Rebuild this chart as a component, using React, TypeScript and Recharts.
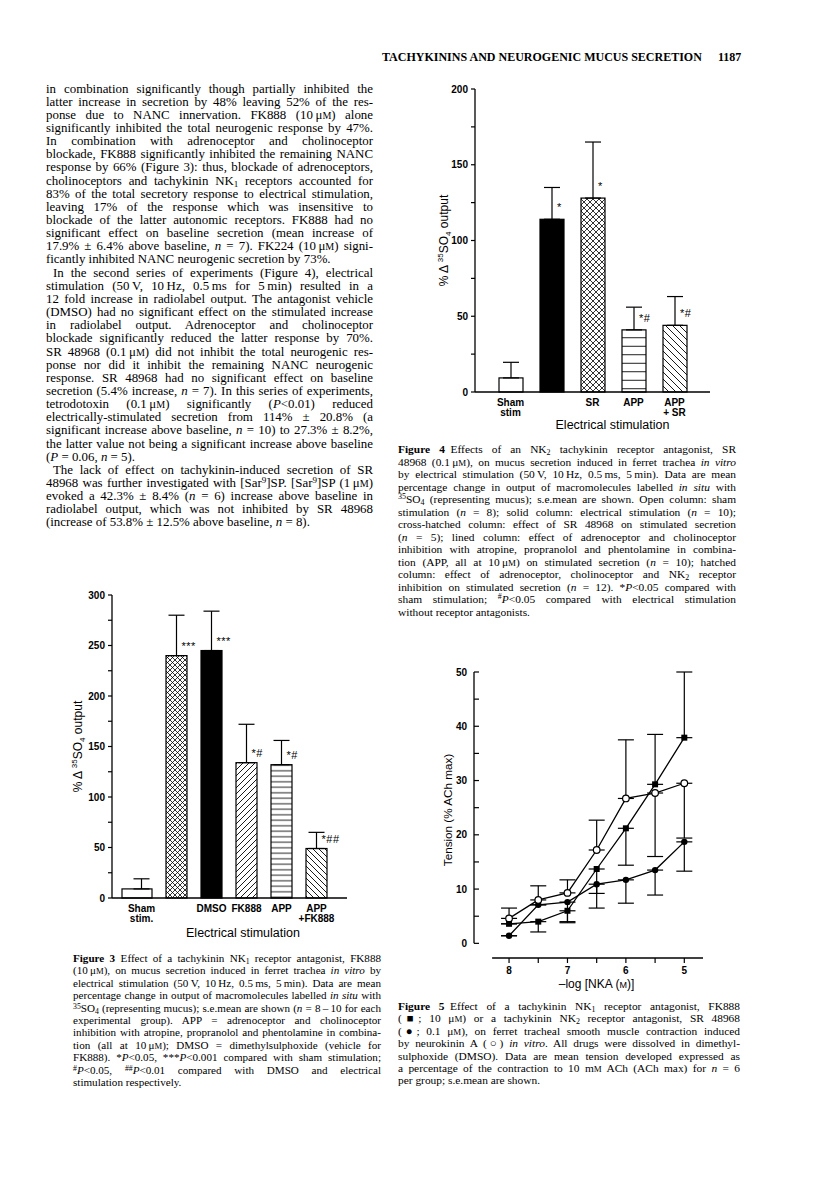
import React from 'react';
import {
  BarChart,
  Bar,
  XAxis,
  YAxis,
  ErrorBar,
  LabelList,
  LineChart,
  Line,
  ReferenceLine,
} from 'recharts';

const SANS = '"Liberation Sans", Arial, sans-serif';
const SERIF = '"Liberation Serif", "Times New Roman", serif';

// ---------- Figure 3 data ----------
const fig3Groups = ['sham', 'estim', 'dmso', 'fk888', 'app', 'appFk888'];
const fig3TickLabels = [['Sham', 'stim.'], [], ['DMSO'], ['FK888'], ['APP'], ['APP', '+FK888']];
const fig3Mean = [9, 240, 245, 134, 132, 49];
const fig3Sem = [10, 40, 39, 38, 24, 16];
const fig3Signif = ['', '***', '***', '*#', '*#', '*##'];
const fig3YTicks = [0, 25, 50, 75, 100, 125, 150, 175, 200, 225, 250, 275, 300];

// ---------- Figure 4 data ----------
const fig4Groups = ['sham', 'estim', 'sr', 'app', 'appSr'];
const fig4TickLabels = [['Sham', 'stim'], [], ['SR'], ['APP'], ['APP', '+ SR']];
const fig4Mean = [9.3, 114, 128, 41, 44];
const fig4Sem = [10.3, 21, 37, 15, 19];
const fig4Signif = ['', '*', '*', '*#', '*#'];
const fig4YTicks = [0, 25, 50, 75, 100, 125, 150, 175, 200];

// ---------- Figure 5 data ----------
const doses = [8, 7.5, 7, 6.5, 6, 5.5, 5];
const fk888Mean = [3.6, 4.0, 6.0, 13.7, 21.2, 29.3, 37.9];
const fk888Low = [0, 1.9, 2.2, 7.2, 6.8, 0, 0];
const fk888High = [0, 0, 0, 0, 0, 9.2, 12.1];
const sr48968Mean = [1.4, 7.1, 7.6, 10.9, 11.7, 13.5, 18.7];
const sr48968Low = [0, 0, 3.6, 1.7, 4.3, 4.6, 5.4];
const sr48968High = [0, 0, 0, 0, 0, 0, 0];
const nkaMean = [4.6, 8.0, 9.3, 17.2, 26.7, 27.7, 29.5];
const nkaLow = [0, 0, 0, 0, 0, 11.7, 10.1];
const nkaHigh = [1.9, 2.6, 2.4, 5.5, 10.8, 0, 0];
const fig5YTicks = [0, 5, 10, 15, 20, 25, 30, 35, 40, 45, 50];

// ---------- page text ----------
const headerText = 'TACHYKININS AND NEUROGENIC MUCUS SECRETION';
const pageNumber = '1187';

const bodyLines = [
  'in combination significantly though partially inhibited the',
  'latter increase in secretion by 48% leaving 52% of the res-',
  'ponse due to NANC innervation. FK888 (10\u2009\u03bc{sc:M}) alone',
  'significantly inhibited the total neurogenic response by 47%.',
  'In combination with adrenoceptor and cholinoceptor',
  'blockade, FK888 significantly inhibited the remaining NANC',
  'response by 66% (Figure 3): thus, blockade of adrenoceptors,',
  'cholinoceptors and tachykinin NK{sub:1} receptors accounted for',
  '83% of the total secretory response to electrical stimulation,',
  'leaving 17% of the response which was insensitive to',
  'blockade of the latter autonomic receptors. FK888 had no',
  'significant effect on baseline secretion (mean increase of',
  '17.9% \u00b1 6.4% above baseline, {i:n} = 7). FK224 (10\u2009\u03bc{sc:M}) signi-',
  '$ficantly inhibited NANC neurogenic secretion by 73%.',
  '>In the second series of experiments (Figure 4), electrical',
  'stimulation (50\u2009V, 10\u2009Hz, 0.5\u2009ms for 5\u2009min) resulted in a',
  '12 fold increase in radiolabel output. The antagonist vehicle',
  '(DMSO) had no significant effect on the stimulated increase',
  'in radiolabel output. Adrenoceptor and cholinoceptor',
  'blockade significantly reduced the latter response by 70%.',
  'SR 48968 (0.1\u2009\u03bc{sc:M}) did not inhibit the total neurogenic res-',
  'ponse nor did it inhibit the remaining NANC neurogenic',
  'response. SR 48968 had no significant effect on baseline',
  'secretion (5.4% increase, {i:n} = 7). In this series of experiments,',
  'tetrodotoxin (0.1\u2009\u03bc{sc:M}) significantly ({i:P}<0.01) reduced',
  'electrically-stimulated secretion from 114% \u00b1 20.8% (a',
  'significant increase above baseline, {i:n} = 10) to 27.3% \u00b1 8.2%,',
  'the latter value not being a significant increase above baseline',
  '$({i:P} = 0.06, {i:n} = 5).',
  '>The lack of effect on tachykinin-induced secretion of SR',
  '48968 was further investigated with [Sar{sup:9}]SP. [Sar{sup:9}]SP (1\u2009\u03bc{sc:M})',
  'evoked a 42.3% \u00b1 8.4% ({i:n} = 6) increase above baseline in',
  'radiolabel output, which was not inhibited by SR 48968',
  '$(increase of 53.8% \u00b1 12.5% above baseline, {i:n} = 8).',
];

const fig3Caption = [
  '{b:Figure 3}\u2002Effect of a tachykinin NK{sub:1} receptor antagonist, FK888',
  '(10\u2009\u03bc{sc:M}), on mucus secretion induced in ferret trachea {i:in vitro} by',
  'electrical stimulation (50\u2009V, 10\u2009Hz, 0.5\u2009ms, 5\u2009min). Data are mean',
  'percentage change in output of macromolecules labelled {i:in situ} with',
  '{sup:35}SO{sub:4} (representing mucus); s.e.mean are shown ({i:n} = 8\u2009\u2013\u200910 for each',
  'experimental group). APP = adrenoceptor and cholinoceptor',
  'inhibition with atropine, propranolol and phentolamine in combina-',
  'tion (all at 10\u2009\u03bc{sc:M}); DMSO = dimethylsulphoxide (vehicle for',
  'FK888). *{i:P}<0.05, ***{i:P}<0.001 compared with sham stimulation;',
  '{sup:#}{i:P}<0.05, {sup:##}{i:P}<0.01 compared with DMSO and electrical',
  '$stimulation respectively.',
];

const fig4Caption = [
  '{b:Figure 4}\u2002Effects of an NK{sub:2} tachykinin receptor antagonist, SR',
  '48968 (0.1\u2009\u03bc{sc:M}), on mucus secretion induced in ferret trachea {i:in vitro}',
  'by electrical stimulation (50\u2009V, 10\u2009Hz, 0.5\u2009ms, 5\u2009min). Data are mean',
  'percentage change in output of macromolecules labelled {i:in situ} with',
  '{sup:35}SO{sub:4} (representing mucus); s.e.mean are shown. Open column: sham',
  'stimulation ({i:n} = 8); solid column: electrical stimulation ({i:n} = 10);',
  'cross-hatched column: effect of SR 48968 on stimulated secretion',
  '({i:n} = 5); lined column: effect of adrenoceptor and cholinoceptor',
  'inhibition with atropine, propranolol and phentolamine in combina-',
  'tion (APP, all at 10\u2009\u03bc{sc:M}) on stimulated secretion ({i:n} = 10); hatched',
  'column: effect of adrenoceptor, cholinoceptor and NK{sub:2} receptor',
  'inhibition on stimulated secretion ({i:n} = 12). *{i:P}<0.05 compared with',
  'sham stimulation; {sup:#}{i:P}<0.05 compared with electrical stimulation',
  '$without receptor antagonists.',
];

const fig5Caption = [
  '{b:Figure 5}\u2002Effect of a tachykinin NK{sub:1} receptor antagonist, FK888',
  '(\u25a0; 10 \u03bc{sc:M}) or a tachykinin NK{sub:2} receptor antagonist, SR 48968',
  '(\u25cf; 0.1 \u03bc{sc:M}), on ferret tracheal smooth muscle contraction induced',
  'by neurokinin A (\u25cb) {i:in vitro}. All drugs were dissolved in dimethyl-',
  'sulphoxide (DMSO). Data are mean tension developed expressed as',
  'a percentage of the contraction to 10 m{sc:M} ACh (ACh max) for {i:n} = 6',
  '$per group; s.e.mean are shown.',
];

// tiny markup: {i:..} italic, {b:..} bold, {sub:..}, {sup:..}, {sc:..} small caps
const renderMarkup = (s: string) => {
  const out: React.ReactNode[] = [];
  const re = /\{(i|b|sub|sup|sc):([^}]*)\}/g;
  let last = 0;
  let k = 0;
  let m: RegExpExecArray | null;
  while ((m = re.exec(s))) {
    if (m.index > last) out.push(s.slice(last, m.index));
    const t = m[1];
    const v = m[2];
    if (t === 'i') out.push(<i key={k++}>{v}</i>);
    else if (t === 'b') out.push(<b key={k++}>{v}</b>);
    else if (t === 'sub') out.push(<span key={k++} style={{ fontSize: '0.7em', verticalAlign: '-0.25em', lineHeight: 0 }}>{v}</span>);
    else if (t === 'sup') out.push(<span key={k++} style={{ fontSize: '0.7em', verticalAlign: '0.45em', lineHeight: 0 }}>{v}</span>);
    else out.push(<span key={k++} style={{ fontSize: '0.78em' }}>{v}</span>);
    last = re.lastIndex;
  }
  if (last < s.length) out.push(s.slice(last));
  return out;
};

const TextBlock = ({ lines, left, width, firstY, step, fontSize }: any) => (
  <>
    {lines.map((raw: string, i: number) => {
      let s = raw;
      let lastLine = false;
      let indent = 0;
      if (s.startsWith('$')) { lastLine = true; s = s.slice(1); }
      if (s.startsWith('>')) { indent = 7; s = s.slice(1); }
      return (
        <div
          key={i}
          style={{
            position: 'absolute',
            left: left + indent,
            width: width - indent,
            top: firstY + i * step - 9,
            height: 16,
            lineHeight: '16px',
            fontSize,
            textAlign: lastLine ? 'left' : 'justify',
            textAlignLast: lastLine ? 'left' : 'justify',
            whiteSpace: 'nowrap',
          }}
        >
          {renderMarkup(s)}
        </div>
      );
    })}
  </>
);

// ---------- shared chart bits ----------
const makeYTick = (labelEvery: number, inside = false) => (p: any) => {
  const v = p.payload.value;
  return (
    <g>
      <line x1={inside ? p.x : p.x - 4} x2={inside ? p.x + 5 : p.x} y1={p.y} y2={p.y} stroke="#000" strokeWidth={1.2} />
      {v % labelEvery === 0 && (
        <text x={p.x - 7} y={p.y} dy={3.6} textAnchor="end" fontSize={10} fontWeight="bold" fontFamily={SANS} fill="#000">
          {v}
        </text>
      )}
    </g>
  );
};

const makeCatTick = (groups: string[], labels: string[][]) => (p: any) => {
  const idx = groups.indexOf(p.payload.value);
  const lines = labels[idx] || [];
  return (
    <text x={p.x} y={p.y} textAnchor="middle" fontSize={10} fontWeight="bold" fontFamily={SANS} fill="#000">
      {lines.map((l, i) => (
        <tspan key={i} x={p.x} y={p.y + 14 + i * 10}>{l}</tspan>
      ))}
    </text>
  );
};

const makeSignif = (dy: number) => (p: any) => {
  const vb = p.viewBox ?? p;
  if (!p.value) return null;
  return (
    <text x={vb.x + vb.width / 2 + 5} y={vb.y - dy} fontSize={11} fontFamily={SANS} fill="#000" letterSpacing={0.5}>
      {p.value}
    </text>
  );
};

const so4Label = (dx: number) => (p: any) => {
  const vb = p.viewBox;
  const cx = vb.x + dx + 4;
  const cy = vb.y + vb.height / 2;
  return (
    <text transform={`translate(${cx},${cy}) rotate(-90)`} textAnchor="middle" fontSize={12} fontFamily={SANS} fill="#000">
      % {'\u0394'} <tspan fontSize={8} dy={-5}>35</tspan>
      <tspan dy={5}>SO</tspan>
      <tspan fontSize={8} dy={3}>4</tspan>
      <tspan dy={-3}> output</tspan>
    </text>
  );
};

const xTitle = (text: string, dx: number, dy: number, size = 12.5) => (p: any) => {
  const vb = p.viewBox;
  return (
    <text x={vb.x + vb.width / 2 + dx} y={vb.y + dy} textAnchor="middle" fontSize={size} fontFamily={SANS} fill="#000">
      {text}
    </text>
  );
};

// ---------- Figure 3 ----------
const fig3Fills = ['#fff', 'url(#f3cross)', '#000', 'url(#f3fwd)', 'url(#f3horiz)', 'url(#f3back)'];

const Fig3Bar = (p: any) => {
  const i = p.index ?? fig3Groups.indexOf(p.payload?.group);
  const wide = i === 0;
  const w = wide ? 30 : p.width;
  const x = wide ? p.x + p.width / 2 - 4.5 - w / 2 : p.x;
  return <rect x={x} y={p.y} width={w} height={p.height} fill={fig3Fills[i]} stroke="#000" strokeWidth={1.2} />;
};

const Figure3 = () => {
  const rows = fig3Groups.map((g, i) => ({ group: g, mean: fig3Mean[i], err: [0, fig3Sem[i]], signif: fig3Signif[i] }));
  return (
    <BarChart width={330} height={380} data={rows} margin={{ top: 25, right: 23, bottom: 12, left: 32 }} barSize={21}>
      <defs>
        <pattern id="f3cross" patternUnits="userSpaceOnUse" width={5} height={5}>
          <rect width={5} height={5} fill="#fff" />
          <path d="M0,0L5,5M5,0L0,5" stroke="#000" strokeWidth={0.8} />
        </pattern>
        <pattern id="f3fwd" patternUnits="userSpaceOnUse" width={6} height={6}>
          <rect width={6} height={6} fill="#fff" />
          <path d="M0,6L6,0M-1,1L1,-1M5,7L7,5" stroke="#000" strokeWidth={0.9} />
        </pattern>
        <pattern id="f3back" patternUnits="userSpaceOnUse" width={6} height={6}>
          <rect width={6} height={6} fill="#fff" />
          <path d="M0,0L6,6M-1,5L1,7M5,-1L7,1" stroke="#000" strokeWidth={0.9} />
        </pattern>
        <pattern id="f3horiz" patternUnits="userSpaceOnUse" width={4} height={5.5}>
          <rect width={4} height={5.5} fill="#fff" />
          <path d="M0,2.75H4" stroke="#000" strokeWidth={0.9} />
        </pattern>
      </defs>
      <XAxis
        dataKey="group"
        type="category"
        padding={{ left: 12, right: 13 }}
        height={40}
        interval={0}
        tickLine={false}
        tickSize={0}
        tickMargin={0}
        axisLine={{ stroke: '#000', strokeWidth: 1.3 }}
        tick={makeCatTick(fig3Groups, fig3TickLabels)}
        label={xTitle('Electrical stimulation', 13.5, 39)}
      />
      <YAxis
        type="number"
        domain={[0, 300]}
        ticks={fig3YTicks}
        interval={0}
        width={40}
        tickLine={false}
        tickSize={0}
        tickMargin={0}
        axisLine={{ stroke: '#000', strokeWidth: 1.3 }}
        tick={makeYTick(50)}
        label={so4Label(6)}
      />
      <Bar dataKey="mean" isAnimationActive={false} shape={Fig3Bar}>
        <ErrorBar dataKey="err" width={8} stroke="#000" strokeWidth={1.2} direction="y" />
        <LabelList dataKey="signif" content={makeSignif(6)} />
      </Bar>
    </BarChart>
  );
};

// ---------- Figure 4 ----------
const fig4Fills = ['#fff', '#000', 'url(#f4cross)', 'url(#f4horiz)', 'url(#f4back)'];

const Fig4Bar = (p: any) => {
  const i = p.index ?? fig4Groups.indexOf(p.payload?.group);
  return <rect x={p.x} y={p.y} width={p.width} height={p.height} fill={fig4Fills[i]} stroke="#000" strokeWidth={1.2} />;
};

const Figure4 = () => {
  const rows = fig4Groups.map((g, i) => ({ group: g, mean: fig4Mean[i], err: [0, fig4Sem[i]], signif: fig4Signif[i] }));
  return (
    <BarChart width={320} height={370} data={rows} margin={{ top: 19, right: 20, bottom: 10, left: 25 }} barSize={24}>
      <defs>
        <pattern id="f4cross" patternUnits="userSpaceOnUse" width={6} height={6}>
          <rect width={6} height={6} fill="#fff" />
          <path d="M0,0L6,6M6,0L0,6" stroke="#000" strokeWidth={0.8} />
        </pattern>
        <pattern id="f4back" patternUnits="userSpaceOnUse" width={7} height={7}>
          <rect width={7} height={7} fill="#fff" />
          <path d="M0,0L7,7M-1,6L1,8M6,-1L8,1" stroke="#000" strokeWidth={0.9} />
        </pattern>
        <pattern id="f4horiz" patternUnits="userSpaceOnUse" width={4} height={8.5}>
          <rect width={4} height={8.5} fill="#fff" />
          <path d="M0,4.25H4" stroke="#000" strokeWidth={0.9} />
        </pattern>
      </defs>
      <XAxis
        dataKey="group"
        type="category"
        padding={{ left: 15, right: 15 }}
        height={38}
        interval={0}
        tickLine={false}
        tickSize={0}
        tickMargin={0}
        axisLine={{ stroke: '#000', strokeWidth: 1.3 }}
        tick={makeCatTick(fig4Groups, fig4TickLabels)}
        label={xTitle('Electrical stimulation', 20, 37)}
      />
      <YAxis
        type="number"
        domain={[0, 200]}
        ticks={fig4YTicks}
        interval={0}
        width={40}
        tickLine={false}
        tickSize={0}
        tickMargin={0}
        axisLine={{ stroke: '#000', strokeWidth: 1.3 }}
        tick={makeYTick(50)}
        label={so4Label(9)}
      />
      <Bar dataKey="mean" isAnimationActive={false} shape={Fig4Bar}>
        <ErrorBar dataKey="err" width={8} stroke="#000" strokeWidth={1.2} direction="y" />
        <LabelList dataKey="signif" content={makeSignif(8)} />
      </Bar>
    </BarChart>
  );
};

// ---------- Figure 5 ----------
const SquareDot = (p: any) => <rect key={p.index} x={p.cx - 3} y={p.cy - 3} width={6} height={6} fill="#000" />;
const FilledDot = (p: any) => <circle key={p.index} cx={p.cx} cy={p.cy} r={3.2} fill="#000" />;
const OpenDot = (p: any) => <circle key={p.index} cx={p.cx} cy={p.cy} r={3.3} fill="#fff" stroke="#000" strokeWidth={1.2} />;

const DoseTick = (p: any) => {
  const v = p.payload.value;
  return (
    <g>
      <line x1={p.x} x2={p.x} y1={p.y} y2={p.y + 5} stroke="#000" strokeWidth={1.2} />
      {Number.isInteger(v) && (
        <text x={p.x} y={p.y + 16} textAnchor="middle" fontSize={10} fontWeight="bold" fontFamily={SANS} fill="#000">
          {v}
        </text>
      )}
    </g>
  );
};

const tensionLabel = (p: any) => {
  const vb = p.viewBox;
  const cx = vb.x + 14 + 4;
  const cy = vb.y + vb.height / 2 - 5;
  return (
    <text transform={`translate(${cx},${cy}) rotate(-90)`} textAnchor="middle" fontSize={11.7} fontFamily={SANS} fill="#000">
      Tension (% ACh max)
    </text>
  );
};

const doseLabel = (p: any) => {
  const vb = p.viewBox;
  return (
    <text x={vb.x + vb.width / 2 + 8} y={vb.y + 30} textAnchor="middle" fontSize={12} fontFamily={SANS} fill="#000">
      {'\u2013log [NKA ('}
      <tspan fontSize={9}>M</tspan>
      {')]'}
    </text>
  );
};

const Figure5 = () => {
  const rows = doses.map((d, i) => ({
    dose: d,
    fk: fk888Mean[i],
    fkErr: [fk888Low[i], fk888High[i]],
    sr: sr48968Mean[i],
    srErr: [sr48968Low[i], sr48968High[i]],
    nka: nkaMean[i],
    nkaErr: [nkaLow[i], nkaHigh[i]],
  }));
  const yMin = -2.7;
  const xLeft = 8.6;
  return (
    <LineChart width={310} height={360} data={rows} margin={{ top: 32, right: 17, bottom: 12, left: 24 }}>
      <XAxis
        dataKey="dose"
        type="number"
        domain={[4.68, xLeft]}
        reversed
        ticks={doses}
        interval={0}
        height={30}
        tickLine={false}
        tickSize={0}
        tickMargin={0}
        axisLine={false}
        tick={DoseTick}
        label={doseLabel}
        allowDataOverflow
      />
      <YAxis
        type="number"
        domain={[yMin, 50]}
        ticks={fig5YTicks}
        interval={0}
        width={40}
        tickLine={false}
        tickSize={0}
        tickMargin={0}
        axisLine={false}
        tick={makeYTick(10, true)}
        label={tensionLabel}
        allowDataOverflow
      />
      <ReferenceLine segment={[{ x: 8.29, y: yMin }, { x: 4.68, y: yMin }]} stroke="#000" strokeWidth={1.3} ifOverflow="visible" />
      <ReferenceLine segment={[{ x: xLeft, y: 0 }, { x: xLeft, y: 50 }]} stroke="#000" strokeWidth={1.3} ifOverflow="visible" />
      <Line type="linear" dataKey="sr" stroke="#000" strokeWidth={1.3} dot={FilledDot} isAnimationActive={false}>
        <ErrorBar dataKey="srErr" width={8} stroke="#000" strokeWidth={1.2} direction="y" />
      </Line>
      <Line type="linear" dataKey="fk" stroke="#000" strokeWidth={1.3} dot={SquareDot} isAnimationActive={false}>
        <ErrorBar dataKey="fkErr" width={8} stroke="#000" strokeWidth={1.2} direction="y" />
      </Line>
      <Line type="linear" dataKey="nka" stroke="#000" strokeWidth={1.3} dot={OpenDot} isAnimationActive={false}>
        <ErrorBar dataKey="nkaErr" width={8} stroke="#000" strokeWidth={1.2} direction="y" />
      </Line>
    </LineChart>
  );
};

export default function App() {
  return (
    <div
      style={{
        position: 'absolute',
        left: 0,
        top: 0,
        width: 816,
        height: 1186,
        background: '#fff',
        color: '#000',
        fontFamily: SERIF,
        overflow: 'hidden',
      }}
    >
      <div style={{ position: 'absolute', left: 382, top: 49, fontSize: 12, fontWeight: 'bold', whiteSpace: 'nowrap', lineHeight: '16px' }}>
        {headerText}
      </div>
      <div style={{ position: 'absolute', left: 718, top: 49, fontSize: 12, fontWeight: 'bold', lineHeight: '16px' }}>{pageNumber}</div>

      <TextBlock lines={bodyLines} left={46} width={327} firstY={89.5} step={13.15} fontSize={12.9} />

      <div style={{ position: 'absolute', left: 40, top: 570 }}>
        <Figure3 />
      </div>
      <TextBlock lines={fig3Caption} left={73} width={308} firstY={959} step={12.4} fontSize={11.1} />

      <div style={{ position: 'absolute', left: 410, top: 70 }}>
        <Figure4 />
      </div>
      <TextBlock lines={fig4Caption} left={398} width={338} firstY={450} step={12.5} fontSize={11.4} />

      <div style={{ position: 'absolute', left: 410, top: 640 }}>
        <Figure5 />
      </div>
      <TextBlock lines={fig5Caption} left={398} width={342} firstY={1007} step={12.4} fontSize={11.4} />
    </div>
  );
}
